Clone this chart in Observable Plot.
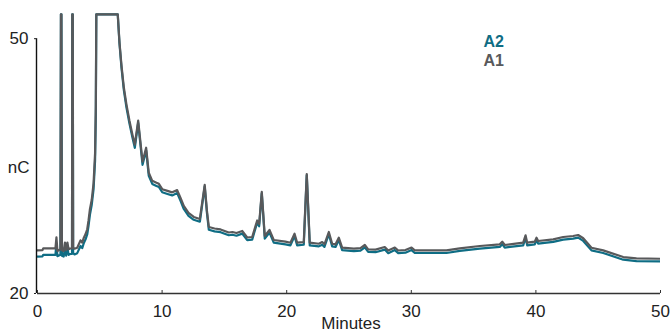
<!DOCTYPE html>
<html>
<head>
<meta charset="utf-8">
<script src="https://cdn.jsdelivr.net/npm/d3@7"></script>
<script src="https://cdn.jsdelivr.net/npm/@observablehq/plot@0.6"></script>
<style>
  html, body { margin: 0; padding: 0; background: #fff; }
</style>
</head>
<body>
<div id="chart"></div>
<script>
// Retention time (minutes)
const time = [0.00,0.40,0.46,1.44,1.52,1.60,1.84,1.88,1.92,1.96,2.10,2.20,2.30,2.40,2.50,2.62,2.77,2.79,2.83,2.86,2.97,3.19,3.45,3.59,3.72,3.85,3.99,4.09,4.21,4.35,4.50,4.62,4.68,4.72,6.44,6.58,6.74,6.93,7.14,7.38,7.62,7.81,8.08,8.43,8.72,8.93,9.21,9.55,9.74,10.01,10.43,10.81,11.21,11.48,11.74,12.12,12.54,13.03,13.42,13.60,13.75,14.21,14.69,15.35,15.65,15.97,16.43,16.83,17.23,17.63,17.79,18.00,18.24,18.62,18.96,19.90,20.30,20.63,20.84,21.37,21.61,21.85,22.58,22.85,23.03,23.38,23.65,23.92,24.18,24.45,25.39,25.92,26.27,26.54,27.13,27.87,28.15,28.68,28.95,29.53,30.02,30.28,31.54,32.82,33.89,35.50,37.10,37.30,37.50,38.98,39.17,39.30,39.91,40.05,40.18,41.39,42.19,42.99,43.39,43.80,44.46,45.40,47.01,48.07,50.00];

// Series A1 (nC)
const seriesA1 = [25.08,25.10,25.32,25.32,26.60,25.00,25.20,52.87,52.87,25.10,25.00,26.00,25.10,26.00,25.20,25.30,25.30,52.87,52.87,25.40,25.27,25.39,26.26,25.98,26.57,26.97,27.56,28.54,29.96,31.00,33.00,36.50,42.00,52.87,52.87,49.56,46.85,44.25,42.24,40.35,38.70,37.52,40.35,35.51,37.16,34.21,33.26,33.03,32.91,32.28,32.08,31.91,32.17,31.26,30.31,29.49,29.01,28.78,32.79,29.72,27.83,27.65,27.54,27.18,27.24,27.12,27.36,26.59,26.65,28.60,28.19,31.97,26.77,27.48,26.30,26.10,25.98,27.04,25.98,26.05,34.06,25.98,25.86,26.06,25.79,27.24,25.86,25.79,26.57,25.41,25.29,25.35,25.71,25.20,25.17,25.47,25.06,25.41,25.06,25.12,25.41,25.08,25.08,25.08,25.32,25.59,25.79,26.10,25.71,25.98,26.85,25.98,26.10,26.57,26.18,26.38,26.65,26.77,26.89,26.50,25.39,25.08,24.29,24.13,24.09];

// Series A2 (nC)
const seriesA2 = [24.35,24.38,24.55,24.55,25.90,24.40,24.55,52.87,52.87,24.45,24.35,25.40,24.45,25.40,24.55,24.65,24.65,52.87,52.87,24.75,24.60,24.75,25.60,25.35,25.95,26.35,26.95,27.90,29.30,30.40,32.30,35.60,41.00,52.87,52.87,49.40,46.60,43.95,41.90,40.00,38.35,37.15,40.10,35.15,36.85,33.85,32.90,32.65,32.55,31.92,31.72,31.55,31.82,30.90,29.95,29.15,28.68,28.45,32.60,29.45,27.50,27.32,27.22,26.86,26.92,26.80,27.05,26.28,26.34,28.35,27.92,31.80,26.46,27.18,25.99,25.79,25.67,26.76,25.67,25.74,33.92,25.67,25.55,25.75,25.48,26.98,25.55,25.48,26.30,25.10,24.98,25.04,25.42,24.89,24.86,25.17,24.75,25.11,24.75,24.81,25.11,24.77,24.77,24.77,25.01,25.28,25.48,25.81,25.40,25.67,26.58,25.67,25.79,26.30,25.87,26.07,26.34,26.46,26.58,26.19,25.08,24.77,23.98,23.82,23.78];

const xTicks = [0, 10, 20, 30, 40, 50];
const yTicks = [20, 50];
const yLabel = "nC";
const xLabel = "Minutes";
const seriesNames = ["A2", "A1"];

const teal = "#0f6d84";
const gray = "#58595b";

const rows = time.map((t, i) => ({t, a1: seriesA1[i], a2: seriesA2[i]}));

const chart = Plot.plot({
  width: 672,
  height: 333,
  marginLeft: 37,
  marginRight: 12,
  marginTop: 11,
  marginBottom: 40,
  style: {fontFamily: "'Liberation Sans', Arial, sans-serif", fontSize: "17px", background: "#fff", color: "#222"},
  x: {domain: [0, 50]},
  y: {domain: [20, 53.2]},
  marks: [
    Plot.line(rows, {x: "t", y: "a2", stroke: teal, strokeWidth: 2.2, strokeLinejoin: "round", clip: true}),
    Plot.line(rows, {x: "t", y: "a1", stroke: gray, strokeWidth: 2.2, strokeLinejoin: "round", clip: true}),
    Plot.ruleY([yTicks[0]], {x1: xTicks[0], x2: xTicks[xTicks.length - 1], stroke: "#333", strokeWidth: 1.4}),
    Plot.ruleX([xTicks[0]], {y1: yTicks[0], y2: yTicks[1], stroke: "#111", strokeWidth: 1.4, dx: -1}),
    Plot.axisX(xTicks, {tickSize: 0, tickPadding: 11, label: null, fill: "#222"}),
    Plot.axisX(xTicks, {tickSize: -3, text: null, label: null, stroke: "#333"}),
    Plot.axisY(yTicks, {tickSize: 2, tickPadding: 6, label: null, fill: "#222", dx: -1}),
    Plot.text([yLabel], {y: () => 35, frameAnchor: "left", textAnchor: "end", dx: -8, dy: 1, fill: "#222"}),
    Plot.text([xLabel], {frameAnchor: "bottom", lineAnchor: "middle", dy: 30, dx: 2, fill: "#222"}),
    Plot.text([seriesNames[0]], {frameAnchor: "top-left", textAnchor: "start", lineAnchor: "middle", dx: 446, dy: 30.7, fill: teal, fontWeight: "bold", fontSize: 16}),
    Plot.text([seriesNames[1]], {frameAnchor: "top-left", textAnchor: "start", lineAnchor: "middle", dx: 446, dy: 49, fill: gray, fontWeight: "bold", fontSize: 16})
  ]
});

document.getElementById("chart").appendChild(chart);
</script>
</body>
</html>
